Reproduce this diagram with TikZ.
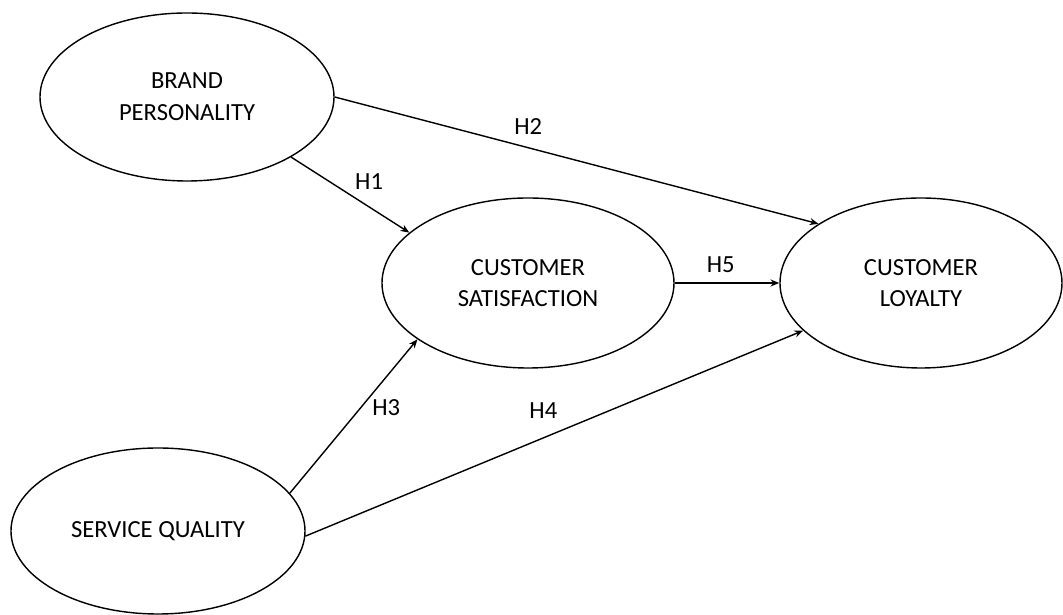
\documentclass[tikz,border=0pt]{standalone}
\usepackage{fontspec}
\setmainfont{Carlito}
\usepackage{tikz}
\usetikzlibrary{arrows.meta,shapes.geometric}

\begin{document}
\begin{tikzpicture}[
	construct/.style={shape=ellipse,draw=black,line width=0.8pt,inner sep=0pt,align=center,font=\fontsize{14}{18}\selectfont},
	hyp/.style={font=\fontsize{14}{16}\selectfont,inner sep=0pt},
	every edge/.style={draw,line width=0.8pt,-{Stealth[length=5pt,width=4pt]}}]
	\useasboundingbox (0,0) rectangle (21.26,12.3);
	
	\node[construct,minimum width=5.88cm,minimum height=3.36cm] (bp) at (3.74, 10.36) {BRAND\\PERSONALITY};
	\node[construct,minimum width=5.84cm,minimum height=3.40cm] (cs) at (10.56, 6.64) {CUSTOMER\\SATISFACTION};
	\node[construct,minimum width=5.64cm,minimum height=3.40cm] (cl) at (18.42, 6.64) {CUSTOMER\\LOYALTY};
	\node[construct,minimum width=5.88cm,minimum height=3.32cm] (sq) at (3.16, 1.68) {SERVICE QUALITY};
	\path (bp.330) edge node[hyp,pos=0.66,yshift=14.7pt] {H1} (cs.157);
	\path (bp.east) edge node[hyp,pos=0.4,yshift=11.9pt] {H2} (cl.150);
	\path (sq.16) edge node[hyp,pos=0.556,xshift=14.5pt] {H3} (cs.207);
	\path (sq.358) edge node[hyp,pos=0.478,yshift=15.3pt] {H4} (cl.202);
	\path (cs.east) edge node[hyp,pos=0.44,yshift=10.2pt] {H5} (cl.west);
\end{tikzpicture}
\end{document}
